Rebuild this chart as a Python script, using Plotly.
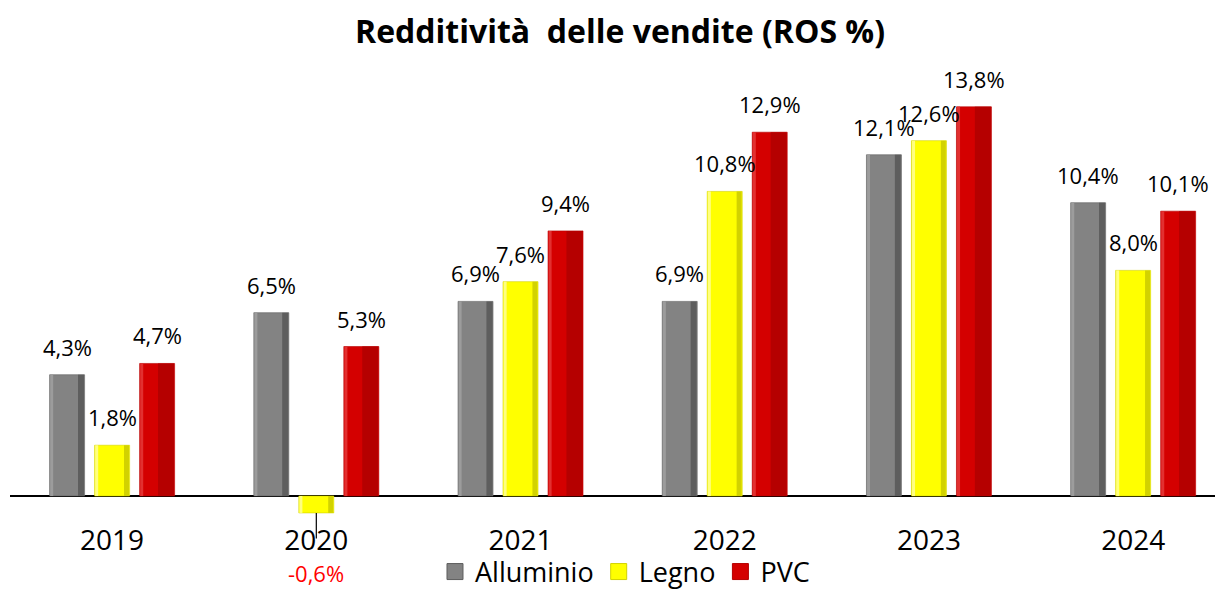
import plotly.graph_objects as go

years = ["2019", "2020", "2021", "2022", "2023", "2024"]
alluminio = [4.3, 6.5, 6.9, 6.9, 12.1, 10.4]
legno = [1.8, -0.6, 7.6, 10.8, 12.6, 8.0]
pvc = [4.7, 5.3, 9.4, 12.9, 13.8, 10.1]

# name, values, main colour, left highlight, right shade, right shade width (px)
series = [
    ("Alluminio", alluminio, "#838383", "#9c9c9c", "#5e5e5e", 6),
    ("Legno", legno, "#ffff00", "#ffff80", "#d2d200", 5),
    ("PVC", pvc, "#d40000", "#e23030", "#b50000", 16),
]

FONT = "Open Sans"
PX_PER_CAT = 204.2          # horizontal pixels per category
BAR_PX = 35                 # bar width in px
STEP_PX = 45                # centre-to-centre distance of bars in a group
FIG_H = 589

x_idx = list(range(len(years)))
fig = go.Figure()
bw = BAR_PX / PX_PER_CAT
for k, (name, vals, col, hi, sh, shw) in enumerate(series):
    c = (k - 1) * STEP_PX / PX_PER_CAT
    fig.add_trace(go.Bar(
        x=x_idx, y=vals, name=name, showlegend=False,
        width=bw, offset=c - bw / 2,
        marker=dict(color=col, line=dict(color=sh, width=0.6)),
        hoverinfo="skip",
    ))
    lw = 3 / PX_PER_CAT
    fig.add_trace(go.Bar(
        x=x_idx, y=vals, showlegend=False, width=lw, offset=c - bw / 2 + 0.6 / PX_PER_CAT,
        marker=dict(color=hi, line=dict(width=0)), hoverinfo="skip",
    ))
    sw = shw / PX_PER_CAT
    fig.add_trace(go.Bar(
        x=x_idx, y=vals, showlegend=False, width=sw, offset=c + bw / 2 - sw - 0.6 / PX_PER_CAT,
        marker=dict(color=sh, line=dict(width=0)), hoverinfo="skip",
    ))
    fig.add_trace(go.Scatter(
        x=[None], y=[None], mode="markers", name=name,
        marker=dict(symbol="square", size=17, color=col, line=dict(color=sh, width=1)),
    ))

def fmt(v):
    return f"{v:.1f}%".replace(".", ",")

annotations = []
offsets = [-STEP_PX, 0, STEP_PX]
for (name, vals, col, hi, sh, shw), off in zip(series, offsets):
    for i, v in enumerate(vals):
        if v >= 0:
            annotations.append(dict(
                x=i, y=v, xref="x", yref="y", text=fmt(v),
                showarrow=False, xshift=off, yshift=11, yanchor="bottom",
                font=dict(family=FONT, size=22, color="black"),
            ))
        else:
            annotations.append(dict(
                x=i, y=v, xref="x", yref="y", text=fmt(v),
                showarrow=True, arrowhead=0, arrowwidth=1.2, arrowcolor="black",
                ax=0, ay=60, xshift=off, standoff=0, startstandoff=18,
                font=dict(family=FONT, size=22, color="#ff0000"),
            ))

fig.update_layout(
    width=1215, height=FIG_H,
    paper_bgcolor="white", plot_bgcolor="white",
    margin=dict(l=2, r=0, t=52, b=FIG_H - 507),
    title=dict(text="<b>Redditività\u00a0 delle vendite (ROS %)</b>", x=0.5037, xanchor="center",
               y=1 - 24 / FIG_H, yanchor="middle",
               font=dict(family=FONT, size=32, color="black")),
    barmode="overlay",
    showlegend=True,
    legend=dict(orientation="h", x=0.507, xanchor="center", xref="paper",
                y=1 - 564 / FIG_H, yanchor="middle", yref="container",
                bgcolor="rgba(0,0,0,0)",
                font=dict(family=FONT, size=27, color="black"),
                itemwidth=30, traceorder="normal"),
    annotations=annotations,
    xaxis=dict(type="linear", range=[-0.5, 5.44], showline=False, showgrid=False, ticks="",
               ticklen=0, tickmode="array", tickvals=x_idx, ticktext=years,
               tickfont=dict(family=FONT, size=28, color="black"),
               ticklabelstandoff=6, zeroline=False, automargin=False),
    yaxis=dict(range=[-0.674, 15.46], showgrid=False, showticklabels=False, ticks="",
               zeroline=True, zerolinecolor="black", zerolinewidth=2, showline=False,
               automargin=False),
)

fig.write_html("out.html")
